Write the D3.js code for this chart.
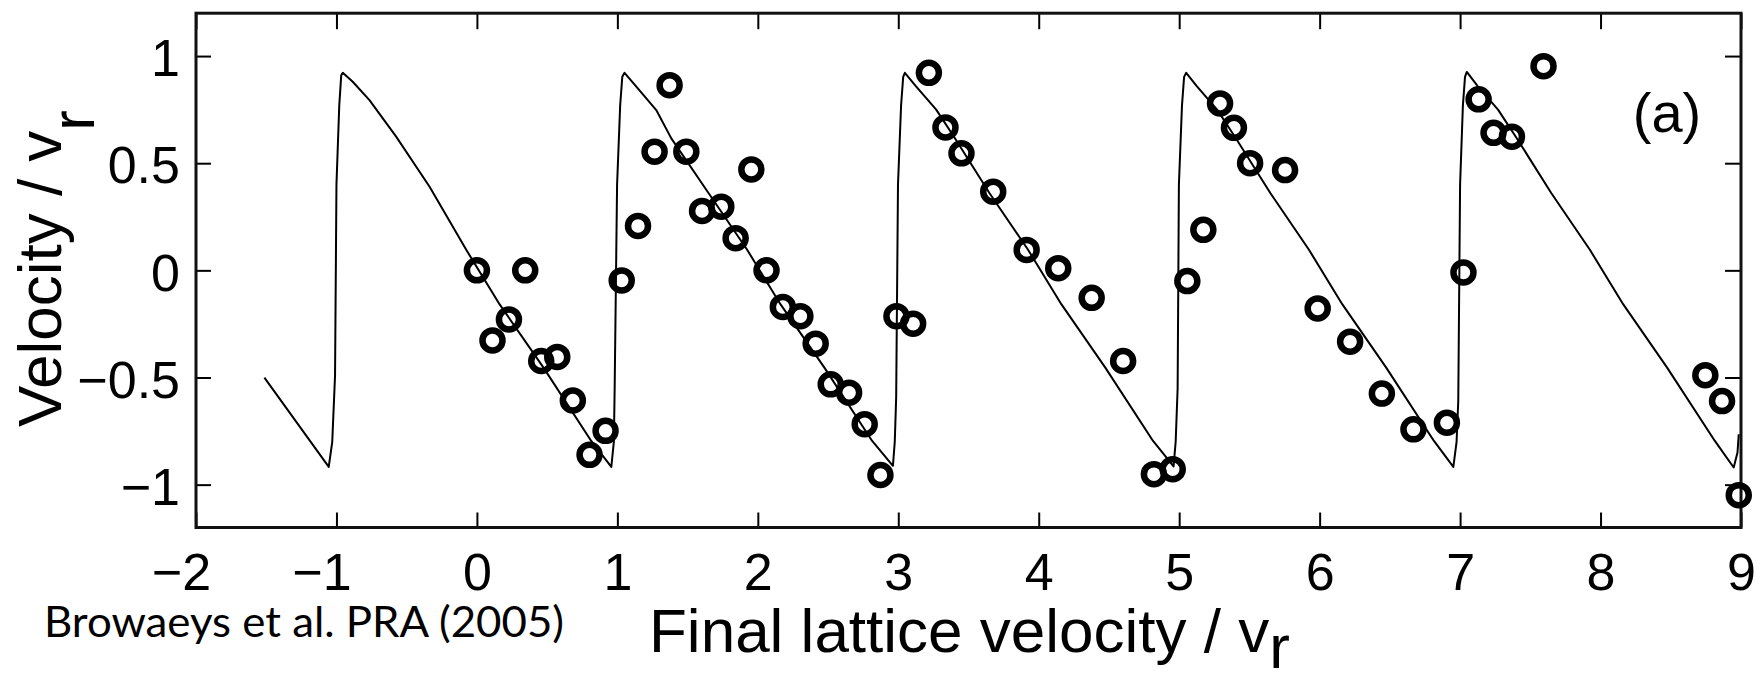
<!DOCTYPE html>
<meta charset="utf-8">
<html>
<head>
    <script src="https://d3js.org/d3.v7.min.js"></script>
    <style>
        body { margin: 0; background: #fff; }
        .axis text { font: 52px "Liberation Sans", Arial, sans-serif; fill: #000; }
        .axis line { stroke: #000; stroke-width: 2; }
        .axis path { display: none; }
        .label { font: 62px "Liberation Sans", Arial, sans-serif; fill: #000; }
    </style>
</head>
<body>
<svg class="chart"></svg>
<script>
    // measured points (circles)
    var dataX = [0.0, 0.111, 0.228, 0.344, 0.458, 0.572, 0.683, 0.802, 0.916, 1.031,
        1.147, 1.265, 1.372, 1.491, 1.603, 1.74, 1.842, 1.954, 2.062, 2.178, 2.303, 2.412, 2.519, 2.65, 2.761, 2.873, 2.987, 3.106,
        3.218, 3.336, 3.45, 3.676, 3.914, 4.139, 4.377, 4.601, 4.82, 4.954, 5.058, 5.172, 5.291, 5.39, 5.505, 5.754,
        5.986, 6.217, 6.443, 6.668, 6.906, 7.024, 7.132, 7.238, 7.369, 7.594,
        8.746, 8.865, 8.984];
    var dataY = [0.0, -0.327, -0.229, 0.0, -0.423, -0.404, -0.607, -0.861, -0.749, -0.047,
        0.207, 0.554, 0.864, 0.554, 0.277, 0.297, 0.15, 0.471, 0.0, -0.171, -0.214, -0.342, -0.532, -0.571, -0.718, -0.955, -0.214, -0.249,
        0.922, 0.667, 0.546, 0.367, 0.095, 0.01, -0.128, -0.423, -0.951, -0.928, -0.05, 0.189, 0.779, 0.665, 0.5, 0.468,
        -0.178, -0.333, -0.575, -0.742, -0.711, -0.01, 0.798, 0.642, 0.624, 0.953,
        -0.489, -0.61, -1.049];

    // theory curve (sawtooth)
    var curveX = [-1.513, -1.055, -1.03, -1.01, -1.0, -0.98, -0.966,
        -0.955, -0.884, -0.765, -0.575, -0.338, -0.076, 0.162, 0.474, 0.814, 0.957,
        0.975, 0.981, 0.998, 1.02, 1.035,
        1.051, 1.135, 1.277, 1.384, 1.65, 1.924, 2.162, 2.474, 2.814, 2.962,
        2.975, 2.985, 2.998, 3.02, 3.035,
        3.047, 3.125, 3.27, 3.4, 3.65, 3.924, 4.162, 4.474, 4.814, 4.96,
        4.975, 4.989, 4.998, 5.02, 5.035,
        5.05, 5.125, 5.27, 5.4, 5.65, 5.924, 6.162, 6.474, 6.814, 6.952,
        6.975, 6.987, 7.0, 7.02, 7.035,
        7.048, 7.125, 7.27, 7.4, 7.65, 7.924, 8.162, 8.474, 8.814, 8.948,
        8.975, 8.984];
    var curveY = [-0.501, -0.917, -0.8, -0.49, 0.4, 0.77, 0.91,
        0.922, 0.88, 0.794, 0.624, 0.391, 0.096, -0.159, -0.454, -0.796, -0.917,
        -0.8, -0.54, 0.4, 0.77, 0.903,
        0.922, 0.857, 0.748, 0.616, 0.36, 0.096, -0.159, -0.454, -0.796, -0.912,
        -0.8, -0.594, 0.4, 0.77, 0.903,
        0.922, 0.86, 0.75, 0.62, 0.36, 0.096, -0.159, -0.454, -0.796, -0.915,
        -0.8, -0.55, 0.4, 0.77, 0.903,
        0.922, 0.86, 0.75, 0.62, 0.36, 0.096, -0.159, -0.454, -0.796, -0.917,
        -0.8, -0.61, 0.4, 0.77, 0.903,
        0.926, 0.86, 0.75, 0.62, 0.36, 0.096, -0.159, -0.454, -0.796, -0.92,
        -0.85, -0.765];

    var xTicks = [-2, -1, 0, 1, 2, 3, 4, 5, 6, 7, 8, 9];
    var yTicks = [-1, -0.5, 0, 0.5, 1];

    var width = 1761,
        height = 681;

    var svg = d3.select(".chart")
        .attr("width", width)
        .attr("height", height);

    var x = d3.scaleLinear().domain([-2, 9]).range([196, 1741]);
    var y = d3.scaleLinear().domain([-1.2, 1.2]).range([527.5, 13.2]);
    var fmt = d3.format("");

    // axes with inward ticks on all four sides
    var xAxis = svg.append("g").attr("class", "axis")
        .attr("transform", "translate(0," + y(-1.2) + ")")
        .call(d3.axisBottom(x).tickValues(xTicks).tickFormat(fmt).tickSize(-15).tickSizeOuter(0).tickPadding(26));
    // minus sign hangs to the left of the centred digit
    xAxis.selectAll("text").attr("x", function(d) { return d < 0 ? -15 : 0; });
    svg.append("g").attr("class", "axis")
        .attr("transform", "translate(0," + y(1.2) + ")")
        .call(d3.axisTop(x).tickValues(xTicks).tickSize(-16).tickSizeOuter(0).tickFormat(""));
    var yAxis = svg.append("g").attr("class", "axis")
        .attr("transform", "translate(" + x(-2) + ",0)")
        .call(d3.axisLeft(y).tickValues(yTicks).tickFormat(fmt).tickSize(-15).tickSizeOuter(0).tickPadding(16));
    yAxis.selectAll("text").attr("dy", "0.38em");
    svg.append("g").attr("class", "axis")
        .attr("transform", "translate(" + x(9) + ",0)")
        .call(d3.axisRight(y).tickValues(yTicks).tickSize(-16).tickSizeOuter(0).tickFormat(""));

    svg.append("rect")
        .attr("x", x(-2))
        .attr("y", y(1.2))
        .attr("width", x(9) - x(-2))
        .attr("height", y(-1.2) - y(1.2))
        .attr("fill", "none")
        .attr("stroke", "#111")
        .attr("stroke-width", 3);

    var line = d3.line()
        .x(function(d, i) { return x(curveX[i]); })
        .y(function(d, i) { return y(curveY[i]); });

    svg.append("path")
        .datum(curveX)
        .attr("d", line)
        .attr("fill", "none")
        .attr("stroke", "#000")
        .attr("stroke-width", 2)
        .attr("stroke-linejoin", "round");

    svg.selectAll(".pt")
        .data(dataX)
        .enter()
        .append("circle")
        .attr("class", "pt")
        .attr("cx", function(d) { return x(d); })
        .attr("cy", function(d, i) { return y(dataY[i]); })
        .attr("r", 10)
        .attr("fill", "none")
        .attr("stroke", "#000")
        .attr("stroke-width", 6.5);

    // labels
    var xl = svg.append("text").attr("class", "label")
        .attr("x", 649).attr("y", 651.7);
    xl.append("tspan").text("Final lattice velocity / v");
    xl.append("tspan").attr("dy", 16).text("r");

    var yl = svg.append("text").attr("class", "label")
        .attr("transform", "translate(61,427) rotate(-90)");
    yl.append("tspan").text("Velocity / v");
    yl.append("tspan").attr("dy", 33).text("r");

    svg.append("text")
        .attr("x", 1667).attr("y", 131.7)
        .attr("text-anchor", "middle")
        .style("font", "56px 'Liberation Sans', Arial, sans-serif")
        .text("(a)");

    svg.append("text")
        .attr("x", 44).attr("y", 637)
        .attr("textLength", 520)
        .attr("lengthAdjust", "spacingAndGlyphs")
        .style("font", "42px Lato, sans-serif")
        .text("Browaeys et al. PRA (2005)");
</script>
</body>
</html>
